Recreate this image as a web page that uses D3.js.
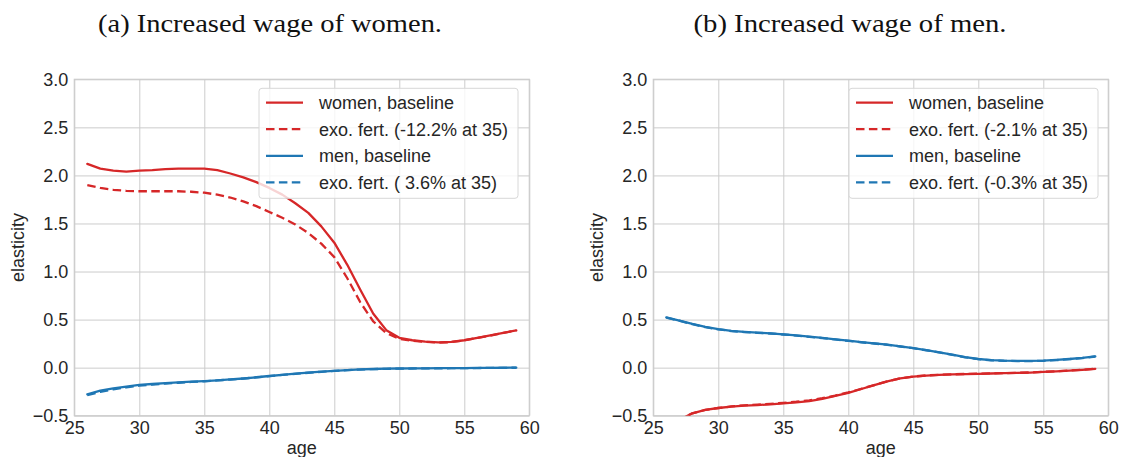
<!DOCTYPE html>
<html>
<head>
<meta charset="utf-8">
<script src="https://cdn.jsdelivr.net/npm/d3@7"></script>
<style>
  html, body { margin: 0; padding: 0; background: #fff; }
  svg { display: block; }
</style>
</head>
<body>
<svg id="chart" width="1121" height="457"></svg>
<script>
// ---------------- data ----------------
const ages = d3.range(26, 60); // 26..59
const xTicks = [25, 30, 35, 40, 45, 50, 55, 60];
const yTicks = [-0.5, 0.0, 0.5, 1.0, 1.5, 2.0, 2.5, 3.0];

const titleA = "(a) Increased wage of women.";
const titleB = "(b) Increased wage of men.";

// panel (a): increased wage of women
const womenBaseA = [2.12,2.07,2.05,2.04,2.05,2.055,2.065,2.07,2.07,2.07,2.055,2.02,1.98,1.93,1.87,1.80,1.71,1.61,1.47,1.30,1.07,0.81,0.56,0.39,0.31,0.285,0.27,0.262,0.268,0.285,0.31,0.335,0.362,0.388];
const womenExoA  = [1.90,1.87,1.85,1.84,1.835,1.835,1.835,1.835,1.83,1.82,1.80,1.77,1.73,1.68,1.62,1.56,1.49,1.40,1.29,1.15,0.93,0.68,0.48,0.36,0.30,0.28,0.268,0.26,0.266,0.284,0.309,0.334,0.361,0.387];
const menBaseA   = [-0.277,-0.24,-0.215,-0.197,-0.18,-0.17,-0.161,-0.153,-0.146,-0.14,-0.132,-0.123,-0.113,-0.1,-0.087,-0.075,-0.063,-0.052,-0.042,-0.033,-0.025,-0.019,-0.014,-0.011,-0.009,-0.008,-0.007,-0.006,-0.005,-0.004,-0.003,-0.002,-0.001,0.0];
const menExoA    = [-0.285,-0.252,-0.225,-0.205,-0.188,-0.176,-0.166,-0.157,-0.149,-0.142,-0.133,-0.124,-0.114,-0.101,-0.088,-0.076,-0.064,-0.053,-0.043,-0.034,-0.026,-0.02,-0.015,-0.012,-0.01,-0.009,-0.008,-0.007,-0.006,-0.005,-0.004,-0.003,-0.002,-0.001];

// panel (b): increased wage of men
const womenBaseB = [-0.62,-0.545,-0.475,-0.44,-0.42,-0.406,-0.396,-0.389,-0.382,-0.372,-0.362,-0.348,-0.325,-0.295,-0.262,-0.222,-0.182,-0.143,-0.112,-0.094,-0.082,-0.075,-0.071,-0.067,-0.064,-0.061,-0.058,-0.055,-0.051,-0.045,-0.038,-0.031,-0.023,-0.012];
const womenExoB  = [-0.62,-0.545,-0.475,-0.44,-0.42,-0.404,-0.392,-0.385,-0.377,-0.366,-0.355,-0.34,-0.318,-0.29,-0.258,-0.22,-0.181,-0.142,-0.111,-0.093,-0.081,-0.074,-0.07,-0.066,-0.063,-0.06,-0.057,-0.054,-0.05,-0.044,-0.037,-0.03,-0.022,-0.011];
const menBaseB   = [0.523,0.49,0.455,0.425,0.40,0.383,0.372,0.364,0.357,0.347,0.336,0.323,0.31,0.295,0.28,0.266,0.253,0.24,0.222,0.204,0.183,0.16,0.135,0.11,0.09,0.079,0.073,0.07,0.07,0.073,0.08,0.09,0.102,0.118];
const menExoB    = [0.521,0.488,0.452,0.422,0.398,0.381,0.37,0.362,0.355,0.345,0.334,0.321,0.308,0.293,0.278,0.264,0.251,0.238,0.22,0.202,0.181,0.158,0.133,0.108,0.088,0.077,0.071,0.068,0.068,0.071,0.078,0.088,0.1,0.116];

const legendA = ["women, baseline", "exo. fert. (-12.2% at 35)", "men, baseline", "exo. fert. ( 3.6% at 35)"];
const legendB = ["women, baseline", "exo. fert. (-2.1% at 35)", "men, baseline", "exo. fert. (-0.3% at 35)"];

// ---------------- styles ----------------
const RED = "#d62728", BLUE = "#1f77b4";
const GRID = "#cccccc", TXT = "#262626";
const SANS = "'Liberation Sans', Arial, Helvetica, sans-serif";
const SERIF = "'Liberation Serif', 'DejaVu Serif', serif";
const DASH = "8.5,4.4";
const FS = 18;

const svg = d3.select("#chart");

function panel(id, left, right, seriesList, legendLabels, legendBox, title, titleCx, titleLen) {
  const top = 79.3, bottom = 415.7;
  const x = d3.scaleLinear().domain([25, 60]).range([left, right]);
  const y = d3.scaleLinear().domain([-0.5, 3.0]).range([bottom, top]);
  const g = svg.append("g");

  svg.append("clipPath").attr("id", "clip" + id)
    .append("rect").attr("x", left).attr("y", top)
    .attr("width", right - left).attr("height", bottom - top);

  // grid via axes
  const gx = g.append("g").attr("transform", `translate(0,${bottom})`)
    .call(d3.axisBottom(x).tickValues(xTicks).tickSize(-(bottom - top)).tickFormat(""));
  const gy = g.append("g").attr("transform", `translate(${left},0)`)
    .call(d3.axisLeft(y).tickValues(yTicks).tickSize(-(right - left)).tickFormat(""));
  [gx, gy].forEach(a => {
    a.select(".domain").remove();
    a.selectAll("line").attr("stroke", GRID).attr("stroke-width", 1);
  });
  g.append("rect").attr("x", left).attr("y", top)
    .attr("width", right - left).attr("height", bottom - top)
    .attr("fill", "none").attr("stroke", GRID).attr("stroke-width", 1.2);

  // tick labels via axes
  const ax = g.append("g").attr("transform", `translate(0,${bottom})`)
    .call(d3.axisBottom(x).tickValues(xTicks).tickSize(0).tickPadding(0).tickFormat(d3.format("d")));
  ax.select(".domain").remove();
  ax.selectAll("text").attr("y", 18).attr("dy", null)
    .attr("font-family", SANS).attr("font-size", FS).attr("fill", TXT);

  const ay = g.append("g").attr("transform", `translate(${left},0)`)
    .call(d3.axisLeft(y).tickValues(yTicks).tickSize(0).tickPadding(6).tickFormat(d3.format(".1f")));
  ay.select(".domain").remove();
  ay.selectAll("text").attr("font-family", SANS).attr("font-size", FS).attr("fill", TXT);

  // axis labels
  g.append("text").attr("x", (left + right) / 2).attr("y", 454)
    .attr("text-anchor", "middle").attr("font-family", SANS).attr("font-size", FS)
    .attr("fill", TXT).text("age");
  g.append("text").attr("transform", `translate(${left - 50},${(top + bottom) / 2}) rotate(-90)`)
    .attr("text-anchor", "middle").attr("font-family", SANS).attr("font-size", FS)
    .attr("fill", TXT).text("elasticity");

  // lines
  const line = d3.line().x((d, i) => x(ages[i])).y(d => y(d)).curve(d3.curveLinear);
  const lg = g.append("g").attr("clip-path", `url(#clip${id})`);
  seriesList.forEach(s => {
    lg.append("path").datum(s.values).attr("d", line)
      .attr("fill", "none").attr("stroke", s.color).attr("stroke-width", 2.3)
      .attr("stroke-linejoin", "round").attr("stroke-linecap", s.dash ? "butt" : "round")
      .attr("stroke-dasharray", s.dash ? DASH : null);
  });

  // legend
  const leg = g.append("g");
  leg.append("rect").attr("x", legendBox.x).attr("y", 88.3)
    .attr("width", legendBox.w).attr("height", 110).attr("rx", 3).attr("ry", 3)
    .attr("fill", "#ffffff").attr("fill-opacity", 0.8)
    .attr("stroke", "#d8d8d8").attr("stroke-width", 1);
  const rowY = [102.7, 129.2, 155.8, 182.3];
  seriesList.forEach((s, i) => {
    leg.append("line").attr("x1", legendBox.x + 7).attr("x2", legendBox.x + 44)
      .attr("y1", rowY[i]).attr("y2", rowY[i])
      .attr("stroke", s.color).attr("stroke-width", 2.3)
      .attr("stroke-dasharray", s.dash ? DASH : null);
    leg.append("text").attr("x", legendBox.x + 60).attr("y", rowY[i]).attr("dy", "0.36em")
      .attr("font-family", SANS).attr("font-size", FS).attr("fill", TXT)
      .text(legendLabels[i]);
  });

  // title
  svg.append("text").attr("x", titleCx).attr("y", 32).attr("text-anchor", "middle")
    .attr("font-family", SERIF).attr("font-size", 26).attr("fill", "#111")
    .attr("textLength", titleLen).attr("lengthAdjust", "spacingAndGlyphs")
    .text(title);
}

panel("A", 74.3, 529.3, [
  { values: womenBaseA, color: RED, dash: false },
  { values: womenExoA, color: RED, dash: true },
  { values: menBaseA, color: BLUE, dash: false },
  { values: menExoA, color: BLUE, dash: true }
], legendA, { x: 259, w: 259 }, titleA, 270, 344);

panel("B", 653.3, 1108.3, [
  { values: womenBaseB, color: RED, dash: false },
  { values: womenExoB, color: RED, dash: true },
  { values: menBaseB, color: BLUE, dash: false },
  { values: menExoB, color: BLUE, dash: true }
], legendB, { x: 849, w: 249 }, titleB, 850, 313);
</script>
</body>
</html>
